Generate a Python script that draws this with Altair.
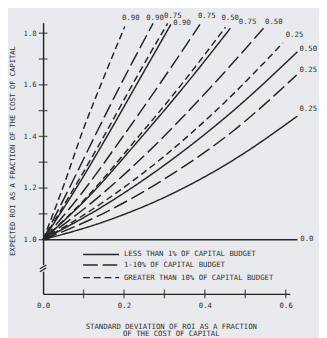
import altair as alt
import pandas as pd

FONT = "DejaVu Sans Mono"
INK = "#262626"
TXT = "#303030"
BG = "#e8eaee"

# ---- curves (probability label, budget class) ----
curve_label = ["0.90", "0.90", "0.75", "0.90", "0.75", "0.50", "0.75",
               "0.50", "0.25", "0.50", "0.25", "0.25", "0.0"]
curve_style = ["short", "long", "short", "solid", "long", "short", "solid",
               "long", "short", "solid", "long", "solid", "solid"]
curve_x = [
    [0, 0.050, 0.100, 0.150, 0.202],
    [0, 0.068, 0.136, 0.204, 0.272],
    [0, 0.077, 0.154, 0.231, 0.308],
    [0, 0.079, 0.158, 0.237, 0.316],
    [0, 0.097, 0.194, 0.291, 0.388],
    [0, 0.113, 0.225, 0.338, 0.451],
    [0, 0.116, 0.232, 0.347, 0.463],
    [0, 0.136, 0.273, 0.409, 0.545],
    [0, 0.148, 0.297, 0.445, 0.593],
    [0, 0.157, 0.315, 0.472, 0.629],
    [0, 0.157, 0.314, 0.470, 0.627],
    [0, 0.157, 0.315, 0.472, 0.629],
    [0, 0.629],
]
curve_y = [
    [1.0, 1.206, 1.430, 1.628, 1.826],
    [1.0, 1.210, 1.427, 1.637, 1.838],
    [1.0, 1.201, 1.411, 1.629, 1.838],
    [1.0, 1.192, 1.400, 1.617, 1.834],
    [1.0, 1.183, 1.392, 1.609, 1.834],
    [1.0, 1.173, 1.379, 1.593, 1.823],
    [1.0, 1.172, 1.377, 1.590, 1.819],
    [1.0, 1.164, 1.360, 1.581, 1.819],
    [1.0, 1.145, 1.320, 1.526, 1.762],
    [1.0, 1.138, 1.306, 1.502, 1.728],
    [1.0, 1.108, 1.249, 1.421, 1.638],
    [1.0, 1.073, 1.175, 1.310, 1.479],
    [1.0, 1.0],
]
# label anchors (left edge / vertical centre of each curve label)
label_x = [0.195, 0.255, 0.299, 0.322, 0.383, 0.441, 0.484,
           0.549, 0.600, 0.634, 0.634, 0.634, 0.636]
label_y = [1.857, 1.857, 1.866, 1.838, 1.866, 1.857, 1.842,
           1.845, 1.792, 1.740, 1.657, 1.506, 1.004]

# ---- legend ----
legend_text = ["LESS THAN 1% OF CAPITAL BUDGET", "1-10% OF CAPITAL BUDGET",
               "GREATER THAN 10% OF CAPITAL BUDGET"]
legend_style = ["solid", "long", "short"]
legend_y = [0.943, 0.902, 0.853]
legend_x0 = 0.099
legend_x1 = 0.188
legend_tx = 0.200

# ---- axes ----
x_labels = [0.0, 0.2, 0.4, 0.6]
x_ticks = [0.1, 0.2, 0.3, 0.4, 0.5, 0.6]
y_labels = [1.0, 1.2, 1.4, 1.6, 1.8]
y_ticks = [1.0, 1.1, 1.2, 1.3, 1.4, 1.5, 1.6, 1.7, 1.8]
x_domain = [0, 0.61]
y_domain = [0.79, 1.84]
break_x0 = [-0.008, -0.008]
break_x1 = [0.008, 0.008]
break_y0 = [0.876, 0.887]
break_y1 = [0.891, 0.902]

rows = []
for i, (xs_, ys_) in enumerate(zip(curve_x, curve_y)):
    for j, (xv, yv) in enumerate(zip(xs_, ys_)):
        rows.append({"curve": i, "style": curve_style[i], "x": xv, "y": yv, "o": j})
curves = pd.DataFrame(rows)
labels = pd.DataFrame({"t": curve_label, "x": label_x, "y": label_y})
legend = pd.DataFrame({"t": legend_text, "style": legend_style, "y": legend_y,
                       "x0": [legend_x0] * 3, "x1": [legend_x1] * 3,
                       "tx": [legend_tx] * 3})
xt = pd.DataFrame({"x": x_ticks, "y": [y_domain[0]] * len(x_ticks)})
yt = pd.DataFrame({"y": y_ticks, "x": [0.0] * len(y_ticks)})
brk = pd.DataFrame({"x0": break_x0, "x1": break_x1, "y0": break_y0, "y1": break_y1})

xs = alt.Scale(domain=x_domain, nice=False, zero=False)
ys = alt.Scale(domain=y_domain, nice=False, zero=False)
dash = alt.Scale(domain=["solid", "long", "short"], range=[[1, 0], [15, 5], [7, 4]])

x_axis = alt.Axis(values=x_labels, format=".1f", ticks=False, grid=False,
                  domainColor=INK, domainWidth=1.5, labelFont=FONT, labelFontSize=7.5,
                  labelColor=TXT, labelPadding=8, labelFlush=False,
                  title=["STANDARD DEVIATION OF ROI AS A FRACTION", "OF THE COST OF CAPITAL"],
                  titleFont=FONT, titleFontSize=7.5, titleFontWeight="normal",
                  titleColor=TXT, titleX=131, titleY=35, titleAlign="center",
                  titleBaseline="alphabetic", titleLineHeight=8)
y_axis = alt.Axis(values=y_labels, format=".1f", ticks=False, grid=False,
                  domainColor=INK, domainWidth=1.5, labelFont=FONT, labelFontSize=7.5,
                  labelColor=TXT, labelPadding=7, labelFlush=False,
                  title="EXPECTED ROI AS A FRACTION OF THE COST OF CAPITAL",
                  titleFont=FONT, titleFontSize=7.3, titleFontWeight="normal",
                  titleColor=TXT, titleAngle=270, titleX=-31, titleY=131,
                  titleAlign="center", titleBaseline="middle")


def X(f):
    return alt.X(f, scale=xs, axis=x_axis)


def Y(f):
    return alt.Y(f, scale=ys, axis=y_axis)


lines = alt.Chart(curves).mark_line(color=INK, strokeWidth=1.5, interpolate="monotone").encode(
    x=X("x:Q"), y=Y("y:Q"),
    detail="curve:N",
    order="o:Q",
    strokeDash=alt.StrokeDash("style:N", scale=dash, legend=None),
)

lab = alt.Chart(labels).mark_text(font=FONT, fontSize=7.5, color=TXT, align="left",
                                  baseline="middle").encode(
    x=X("x:Q"), y=Y("y:Q"), text="t:N")

leg_lines = alt.Chart(legend).mark_rule(color=INK, strokeWidth=1.5).encode(
    x=X("x0:Q"), x2="x1:Q", y=Y("y:Q"),
    strokeDash=alt.StrokeDash("style:N", scale=dash, legend=None))
leg_text = alt.Chart(legend).mark_text(font=FONT, fontSize=7.5, color=TXT, align="left",
                                       baseline="middle").encode(
    x=X("tx:Q"), y=Y("y:Q"), text="t:N")

xtick = alt.Chart(xt).mark_tick(color=INK, thickness=1.4, size=9, orient="vertical").encode(
    x=X("x:Q"), y=Y("y:Q"))
ytick = alt.Chart(yt).mark_tick(color=INK, thickness=1.4, size=9, orient="horizontal").encode(
    x=X("x:Q"), y=Y("y:Q"))

brk_gap = alt.Chart(brk).mark_rule(color=BG, strokeWidth=3).encode(
    x=alt.value(0), y=Y("min(y0):Q"), y2="max(y1):Q")
brk_lines = alt.Chart(brk).mark_rule(color=INK, strokeWidth=1.2).encode(
    x=X("x0:Q"), x2="x1:Q", y=Y("y0:Q"), y2="y1:Q")

chart = alt.layer(lines, lab, leg_lines, leg_text, xtick, ytick, brk_gap, brk_lines).properties(
    width=253, height=278,
    padding={"left": 36, "top": 11, "right": 30, "bottom": 41},
    autosize=alt.AutoSizeParams(type="none"),
    background=BG,
).configure_view(stroke=None, fill=BG)

chart.save("out.html", embed_options={"renderer": "svg", "actions": False})
